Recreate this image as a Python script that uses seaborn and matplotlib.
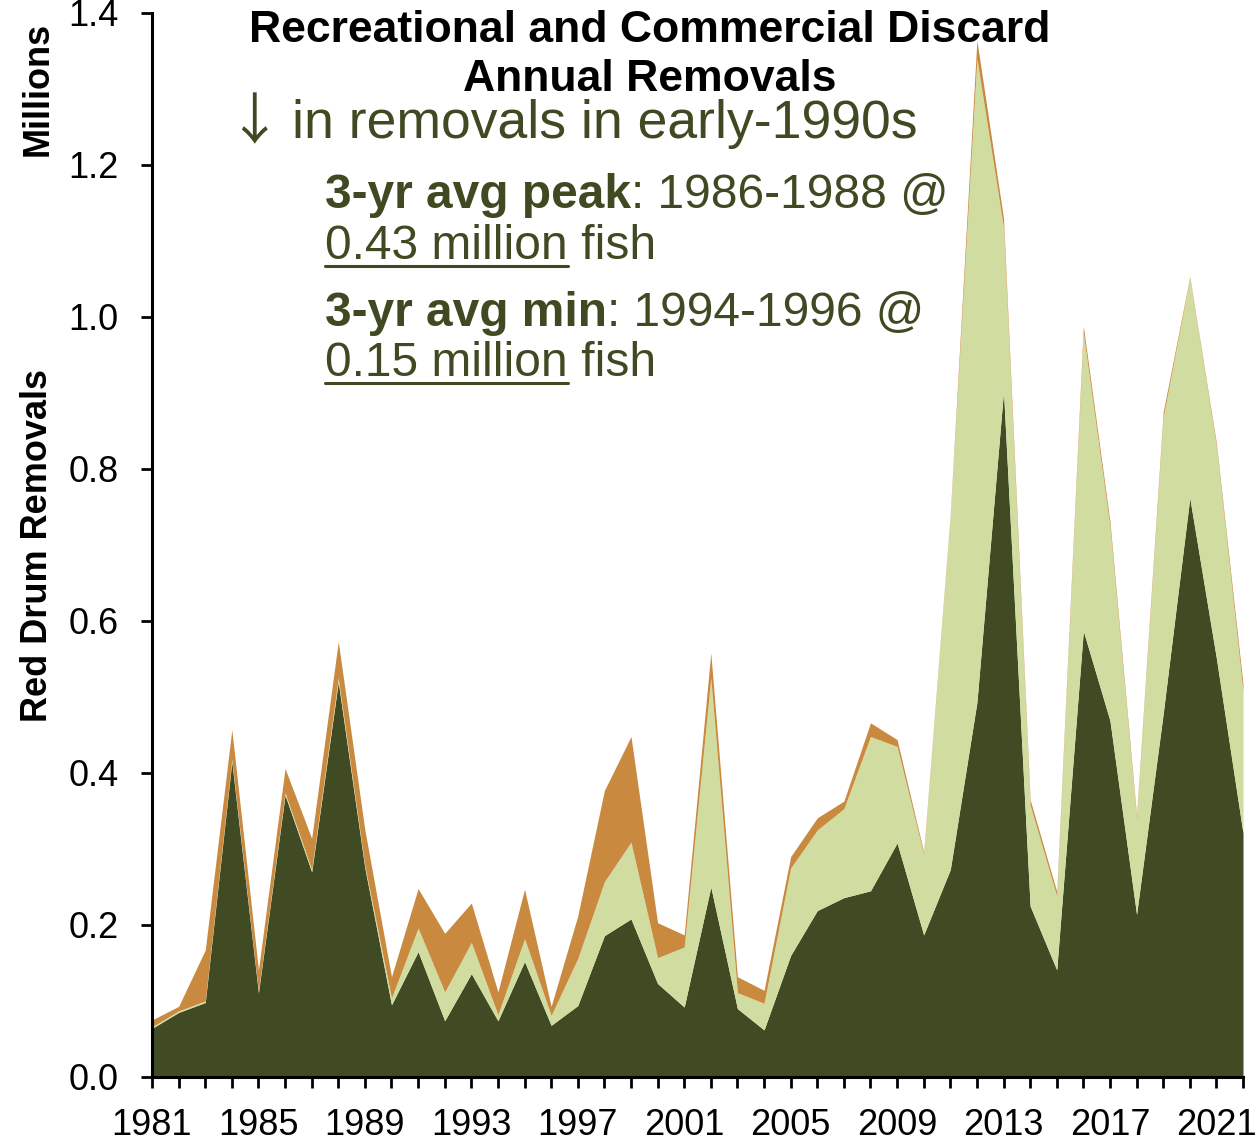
# Red drum discard removals - stacked area chart

import numpy as np
import pandas as pd
import seaborn as sns
import matplotlib.pyplot as plt
from matplotlib.lines import Line2D

# Data (millions of fish)
years = list(range(1981, 2023))
rec_harvest = [0.064, 0.085, 0.098, 0.415, 0.111, 0.371, 0.270, 0.520, 0.275, 0.095,
               0.165, 0.074, 0.136, 0.074, 0.152, 0.068, 0.094, 0.186, 0.208, 0.123,
               0.092, 0.250, 0.090, 0.062, 0.160, 0.219, 0.236, 0.245, 0.308, 0.187,
               0.273, 0.493, 0.902, 0.225, 0.141, 0.587, 0.469, 0.214, 0.478, 0.762,
               0.551, 0.321]
rec_discard = [0.002, 0.002, 0.002, 0.003, 0.002, 0.003, 0.003, 0.005, 0.003, 0.009,
               0.031, 0.038, 0.041, 0.008, 0.030, 0.013, 0.062, 0.071, 0.101, 0.034,
               0.079, 0.275, 0.021, 0.035, 0.115, 0.106, 0.117, 0.203, 0.127, 0.106,
               0.465, 0.847, 0.216, 0.133, 0.097, 0.392, 0.255, 0.125, 0.390, 0.289,
               0.279, 0.186]
comm_discard = [0.009, 0.006, 0.067, 0.039, 0.028, 0.032, 0.041, 0.048, 0.047, 0.028,
                0.052, 0.077, 0.052, 0.030, 0.065, 0.012, 0.056, 0.120, 0.139, 0.046,
                0.016, 0.033, 0.021, 0.017, 0.015, 0.016, 0.010, 0.018, 0.009, 0.003,
                0.003, 0.024, 0.012, 0.007, 0.006, 0.009, 0.007, 0.005, 0.007, 0.002,
                0.004, 0.010]

layer_colors = ["#404B23", "#D1DDA0", "#C98A3F"]
text_green = "#3F4A22"
x_tick_years = list(range(1981, 2022, 4))
y_ticks = [0.0, 0.2, 0.4, 0.6, 0.8, 1.0, 1.2, 1.4]

df = pd.DataFrame({"year": years, "rec": rec_harvest,
                   "rec_disc": rec_discard, "comm_disc": comm_discard})

sns.set_theme(style="ticks")
plt.rcParams["font.family"] = ["Liberation Sans", "DejaVu Sans"]

W, H = 1255, 1145
fig = plt.figure(figsize=(W / 100, H / 100), dpi=100)
ax = fig.add_axes([152 / W, 68 / H, (1243 - 152) / W, (1077 - 13) / H])

ax.stackplot(df["year"], df["rec"], df["rec_disc"], df["comm_disc"],
             colors=layer_colors, linewidth=0)

ax.set_xlim(1981, 2022)
ax.set_ylim(0, 1.4)
ax.set_xticks(x_tick_years)
ax.set_xticks(years, minor=True)
ax.set_yticks(y_ticks)
ax.set_yticklabels([f"{v:.1f}" for v in y_ticks])
ax.tick_params(axis="both", which="both", direction="out", length=8, width=2,
               color="black", labelsize=26, labelcolor="black")
ax.tick_params(axis="x", pad=14)
ax.tick_params(axis="y", pad=16)
sns.despine(ax=ax)
for side in ["left", "bottom"]:
    ax.spines[side].set_linewidth(2.2)
    ax.spines[side].set_color("black")
ax.set_facecolor("white")


def fx(px):
    return px / W


def fy(py):
    return 1 - py / H


# axis labels
fig.text(fx(38), fy(546), "Red Drum Removals", rotation=90, ha="center",
         va="center", fontsize=26, fontweight="bold", color="black")
fig.text(fx(38), fy(89), "Millions", rotation=90, ha="center",
         va="center", fontsize=26, fontweight="bold", color="black")

# title
fig.text(fx(650), fy(42), "Recreational and Commercial Discard", ha="center",
         va="baseline", fontsize=32, fontweight="bold", color="black")
fig.text(fx(650), fy(91), "Annual Removals", ha="center",
         va="baseline", fontsize=32, fontweight="bold", color="black")

# arrow in a font with a thin, wide glyph
fig.text(fx(226), fy(124), "\u2193", ha="left", va="center", fontsize=40,
         color=text_green, family=["Noto Sans CJK SC", "DejaVu Sans"])
fig.text(fx(292), fy(138), "in removals in early-1990s", ha="left",
         va="baseline", fontsize=38.5, color=text_green)

fig.canvas.draw()
renderer = fig.canvas.get_renderer()


def run_text(x0, base, parts, size=34.5):
    # parts: (text, bold, underline)
    x = x0
    for txt, bold, under in parts:
        t = fig.text(fx(x), fy(base), txt, ha="left", va="baseline",
                     fontsize=size, color=text_green,
                     fontweight="bold" if bold else "normal")
        bb = t.get_window_extent(renderer=renderer)
        if under:
            fig.add_artist(Line2D([fx(x), fx(x + bb.width)],
                                  [fy(base + 7), fy(base + 7)],
                                  color=text_green, linewidth=2.2,
                                  transform=fig.transFigure))
        x += bb.width


run_text(325, 208, [("3-yr avg peak", True, False), (": 1986-1988 @", False, False)])
run_text(325, 259, [("0.43 million", False, True), (" fish", False, False)])
run_text(325, 326, [("3-yr avg min", True, False), (": 1994-1996 @", False, False)])
run_text(325, 376, [("0.15 million", False, True), (" fish", False, False)])

fig.savefig("out.png", dpi=100, facecolor="white")
